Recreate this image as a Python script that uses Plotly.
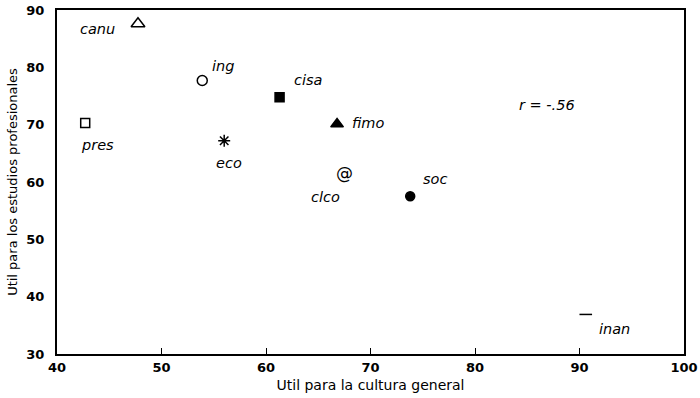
import plotly.graph_objects as go

# ---- data ----
carreras = ["canu", "ing", "cisa", "fimo", "pres", "eco", "clco", "soc", "inan"]
cultura_general = [47.75, 53.9, 61.3, 66.8, 42.7, 56.0, 67.5, 73.8, 90.6]
estudios_profesionales = [87.6, 77.7, 74.8, 70.1, 70.3, 67.2, 61.3, 57.5, 36.9]
x_ticks = [40, 50, 60, 70, 80, 90, 100]
y_ticks = [30, 40, 50, 60, 70, 80, 90]
correlacion = "r = -.56"

# ---- styles ----
symbols = {
    "canu": "triangle-up-open", "ing": "circle-open", "cisa": "square",
    "fimo": "triangle-up", "pres": "square-open", "eco": "asterisk-open",
    "clco": None, "soc": "circle", "inan": "line-ew-open",
}
sizes = {"canu": 12, "ing": 10, "cisa": 9, "fimo": 11, "pres": 9, "eco": 10,
         "clco": 10, "soc": 9, "inan": 9}
label_shift = {
    "canu": (-40, -5), "ing": (21, 15), "cisa": (28, 17), "fimo": (31, 1),
    "pres": (12, -22), "eco": (5, -22), "clco": (-19, -22), "soc": (25, 17),
    "inan": (29, -15),
}

FONT = "DejaVu Sans, sans-serif"
fig = go.Figure()

for name, xv, yv in zip(carreras, cultura_general, estudios_profesionales):
    sym = symbols[name]
    if sym is None:
        fig.add_trace(go.Scatter(
            x=[xv], y=[yv], mode="text", text=["@"],
            textfont=dict(family=FONT, size=17, color="black"),
            textposition="middle center", showlegend=False, hoverinfo="skip"))
    else:
        fig.add_trace(go.Scatter(
            x=[xv], y=[yv], mode="markers",
            marker=dict(symbol=sym, size=sizes[name], color="black",
                        line=dict(color="black", width=1.5)),
            showlegend=False, hoverinfo="skip"))
    dx, dy = label_shift[name]
    fig.add_annotation(x=xv, y=yv, xref="x", yref="y", text=name,
                       showarrow=False, xshift=dx, yshift=dy,
                       xanchor="center", yanchor="middle",
                       font=dict(family=FONT, size=14.5, color="black", style="italic"))

fig.add_annotation(x=0.781, y=0.724, xref="paper", yref="paper", text=correlacion,
                   showarrow=False, xanchor="center", yanchor="middle",
                   font=dict(family=FONT, size=14.5, color="black", style="italic"))

fig.update_layout(
    width=700, height=398,
    margin=dict(l=57, r=16, t=10, b=44, autoexpand=False),
    paper_bgcolor="white", plot_bgcolor="white",
    font=dict(family=FONT, size=13, color="black"),
)
fig.update_xaxes(
    range=[40, 100], tickvals=x_ticks, ticktext=[str(v) for v in x_ticks],
    showgrid=False, zeroline=False, showline=True, linecolor="black",
    linewidth=2, mirror=True, ticks="inside", ticklen=6, tickcolor="black",
    automargin=False,
    tickfont=dict(family=FONT, size=13, color="black", weight="bold"),
    title=dict(text="Util para la cultura general",
               font=dict(family=FONT, size=14, color="black"), standoff=7),
)
fig.update_yaxes(
    range=[30, 90], tickvals=y_ticks, ticktext=[str(v) for v in y_ticks],
    showgrid=False, zeroline=False, showline=True, linecolor="black",
    linewidth=2, mirror=True, ticks="", ticklabelstandoff=8, automargin=False,
    tickfont=dict(family=FONT, size=13, color="black", weight="bold"),
    title=dict(text="Util para los estudios profesionales",
               font=dict(family=FONT, size=13, color="black"), standoff=6),
)

fig.write_html("out.html")
